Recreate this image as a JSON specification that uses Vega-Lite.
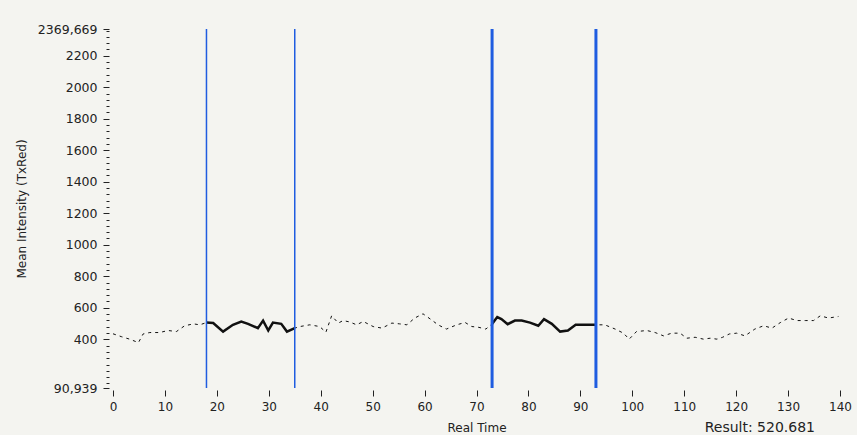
{
  "$schema": "https://vega.github.io/schema/vega-lite/v6.json",
  "autosize": {"type": "none"},
  "padding": {"left": 113, "top": 29, "right": 17, "bottom": 47},
  "width": 727,
  "height": 359,
  "background": "#f4f4f0",
  "config": {
    "view": {"stroke": null},
    "font": "DejaVu Sans",
    "axis": {"labelFont": "DejaVu Sans", "titleFont": "DejaVu Sans", "labelFontSize": 12, "titleFontSize": 12, "titleFontWeight": "normal", "labelColor": "#222", "titleColor": "#222", "tickColor": "#222", "grid": false, "domain": false, "labelOverlap": false, "labelFlush": false}
  },
  "title": {"text": "Result:  520.681", "orient": "bottom", "anchor": "end", "frame": "group", "offset": -12, "dx": -25, "fontSize": 14, "fontWeight": "normal", "font": "DejaVu Sans", "color": "#222"},
  "datasets": {
    "series": [
      {"t": 0, "v": 435}, {"t": 1.6, "v": 417}, {"t": 3.2, "v": 401}, {"t": 4.9, "v": 379}, {"t": 5.8, "v": 434},
      {"t": 7.1, "v": 443}, {"t": 9, "v": 443}, {"t": 10.6, "v": 456}, {"t": 12.2, "v": 449}, {"t": 13.8, "v": 486},
      {"t": 15.5, "v": 498}, {"t": 16.7, "v": 492}, {"t": 18, "v": 506}, {"t": 19.3, "v": 503}, {"t": 21.2, "v": 449},
      {"t": 23.1, "v": 492}, {"t": 24.7, "v": 513}, {"t": 26, "v": 498}, {"t": 27.9, "v": 471}, {"t": 28.9, "v": 519},
      {"t": 29.9, "v": 456}, {"t": 30.8, "v": 506}, {"t": 32.4, "v": 498}, {"t": 33.5, "v": 449}, {"t": 35, "v": 471},
      {"t": 36, "v": 481}, {"t": 37.9, "v": 492}, {"t": 39.8, "v": 481}, {"t": 41, "v": 445}, {"t": 42.1, "v": 549},
      {"t": 43.4, "v": 503}, {"t": 44.3, "v": 519}, {"t": 45.6, "v": 510}, {"t": 46.9, "v": 492}, {"t": 48.2, "v": 513},
      {"t": 50.1, "v": 481}, {"t": 51.8, "v": 471}, {"t": 53.7, "v": 503}, {"t": 55.2, "v": 498}, {"t": 56.6, "v": 492},
      {"t": 58.1, "v": 535}, {"t": 59.7, "v": 562}, {"t": 61.3, "v": 524}, {"t": 62.6, "v": 492}, {"t": 64.2, "v": 465},
      {"t": 66.2, "v": 492}, {"t": 67.8, "v": 507}, {"t": 69.1, "v": 481}, {"t": 70.3, "v": 477}, {"t": 71.8, "v": 465},
      {"t": 73, "v": 498}, {"t": 74, "v": 541}, {"t": 74.8, "v": 528}, {"t": 76, "v": 496}, {"t": 77.4, "v": 519},
      {"t": 78.7, "v": 519}, {"t": 80.3, "v": 506}, {"t": 81.9, "v": 486}, {"t": 83, "v": 528}, {"t": 84.5, "v": 498},
      {"t": 86.1, "v": 449}, {"t": 87.6, "v": 456}, {"t": 89.1, "v": 492}, {"t": 90.9, "v": 492}, {"t": 93, "v": 492},
      {"t": 94.7, "v": 492}, {"t": 96.7, "v": 465}, {"t": 98.3, "v": 439}, {"t": 99.4, "v": 401}, {"t": 100.8, "v": 449},
      {"t": 102.8, "v": 456}, {"t": 104.4, "v": 443}, {"t": 106, "v": 422}, {"t": 107.6, "v": 439}, {"t": 109.2, "v": 439},
      {"t": 110.5, "v": 407}, {"t": 112.1, "v": 413}, {"t": 113.7, "v": 401}, {"t": 115, "v": 407}, {"t": 116.3, "v": 401},
      {"t": 117.4, "v": 413}, {"t": 118.7, "v": 434}, {"t": 120.1, "v": 439}, {"t": 121.7, "v": 422}, {"t": 123.6, "v": 465},
      {"t": 125.3, "v": 486}, {"t": 126.9, "v": 471}, {"t": 128.5, "v": 506}, {"t": 130.1, "v": 535}, {"t": 131.7, "v": 519},
      {"t": 133.3, "v": 519}, {"t": 134.9, "v": 519}, {"t": 136.2, "v": 549}, {"t": 137.8, "v": 535}, {"t": 139.7, "v": 545}
    ],
    "markers": [{"t": 18}, {"t": 35}, {"t": 73}, {"t": 93}]
  },
  "layer": [
    {
      "data": {"name": "series"},
      "mark": {"type": "line", "color": "#111", "strokeWidth": 1, "strokeDash": [3, 4], "clip": true},
      "encoding": {
        "x": {"field": "t", "type": "quantitative", "scale": {"domain": [0, 140], "nice": false, "zero": false},
          "axis": {"title": "Real Time", "values": [0, 10, 20, 30, 40, 50, 60, 70, 80, 90, 100, 110, 120, 130, 140], "tickCount": 100, "tickSize": 6, "offset": 2, "labelPadding": 5, "titlePadding": 10}},
        "y": {"field": "v", "type": "quantitative", "scale": {"domain": [90.939, 2369.669], "nice": false, "zero": false},
          "axis": {"title": "Mean Intensity (TxRed)", "offset": 4, "titleX": -81, "labelPadding": 6, "labelFontSize": 12.5, "tickCount": 200,
            "values": [90.939, 120, 160, 200, 240, 280, 320, 360, 400, 440, 480, 520, 560, 600, 640, 680, 720, 760, 800, 840, 880, 920, 960, 1000, 1040, 1080, 1120, 1160, 1200, 1240, 1280, 1320, 1360, 1400, 1440, 1480, 1520, 1560, 1600, 1640, 1680, 1720, 1760, 1800, 1840, 1880, 1920, 1960, 2000, 2040, 2080, 2120, 2160, 2200, 2240, 2280, 2320, 2360, 2369.669],
            "labelExpr": "datum.value < 100 ? '90,939' : datum.value > 2365 ? '2369,669' : (datum.value >= 400 && datum.value % 200 == 0) ? format(datum.value, 'd') : ''",
            "tickSize": {"condition": {"test": "datum.value < 100 || datum.value > 2365 || (datum.value >= 400 && datum.value % 200 == 0)", "value": 6}, "value": 3}}}
      }
    },
    {
      "data": {"name": "series"},
      "transform": [{"filter": "datum.t >= 18 && datum.t <= 35"}],
      "mark": {"type": "line", "color": "#111", "strokeWidth": 2.5},
      "encoding": {"x": {"field": "t", "type": "quantitative"}, "y": {"field": "v", "type": "quantitative"}}
    },
    {
      "data": {"name": "series"},
      "transform": [{"filter": "datum.t >= 73 && datum.t <= 93"}],
      "mark": {"type": "line", "color": "#111", "strokeWidth": 2.5},
      "encoding": {"x": {"field": "t", "type": "quantitative"}, "y": {"field": "v", "type": "quantitative"}}
    },
    {
      "data": {"name": "markers"},
      "transform": [{"filter": "datum.t < 50"}],
      "mark": {"type": "rule", "color": "#1f5ce0", "strokeWidth": 1.5},
      "encoding": {"x": {"field": "t", "type": "quantitative"}}
    },
    {
      "data": {"name": "markers"},
      "transform": [{"filter": "datum.t > 50"}],
      "mark": {"type": "rule", "color": "#1f5ce0", "strokeWidth": 3},
      "encoding": {"x": {"field": "t", "type": "quantitative"}}
    }
  ]
}
